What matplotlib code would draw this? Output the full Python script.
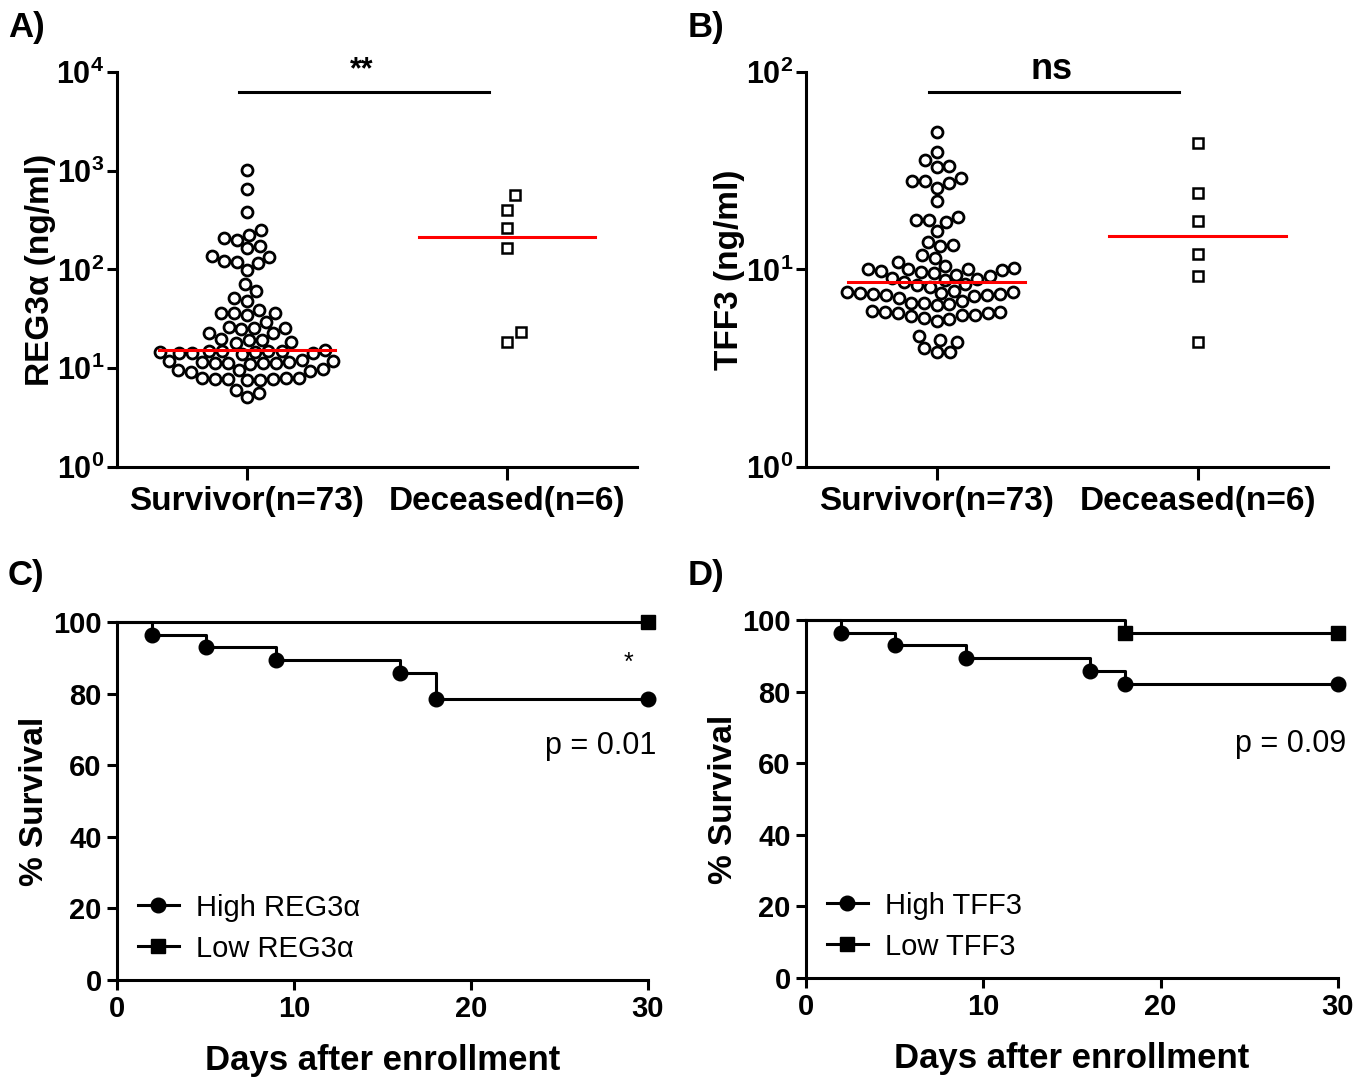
import numpy as np
import matplotlib
matplotlib.use("Agg")
import matplotlib.pyplot as plt
from matplotlib import font_manager
from matplotlib.lines import Line2D

# pick a condensed font if it is there
names = {f.name for f in font_manager.fontManager.ttflist}
NARROW = "Liberation Sans Narrow" if "Liberation Sans Narrow" in names else "Liberation Sans"
WIDE = "Liberation Sans"

plt.rcParams["font.family"] = [WIDE, "DejaVu Sans"]
plt.rcParams["mathtext.fontset"] = "custom"
plt.rcParams["mathtext.rm"] = NARROW
plt.rcParams["mathtext.bf"] = NARROW + ":bold"

# ---------------- data ----------------
groups = ["Survivor(n=73)", "Deceased(n=6)"]

reg3a_survivor = [1020, 646, 385, 251,
                  224, 207, 199, 173, 164,
                  137, 135, 123, 120, 116, 99,
                  71, 60, 51, 48,
                  39, 36.5, 36, 36, 34.7,
                  29.6, 26.4, 25.4, 25.4, 24.8,
                  22.6, 22.6, 20, 19.3, 19.3, 18.6, 18.2,
                  15.3,
                  15.0, 15.0, 14.8, 14.8, 14.6, 14.6, 14.4, 14.4, 14.2, 14.0,
                  12.0, 11.8, 11.8, 11.6, 11.6, 11.4, 11.4, 11.2, 11.2, 11.0,
                  9.8, 9.6, 9.6, 9.4, 9.2,
                  8.0, 7.9, 7.9, 7.8, 7.8, 7.7, 7.6, 7.6,
                  6.0, 5.6, 5.15]
reg3a_deceased = [568, 400, 265, 166, 23.2, 18.6]

tff3_survivor = [49.8, 39.4, 35.8, 33.4, 33.1,
                 28.9, 28.1, 28.1, 27.3, 26.0,
                 22.3,
                 18.4, 17.8, 17.8, 17.4, 15.7,
                 13.8, 13.3, 13.1,
                 11.8, 11.4, 10.9,
                 10.4, 10.2, 10.1, 10.0, 10.0, 9.9, 9.8, 9.7, 9.6, 9.4, 9.3, 9.1, 8.9, 8.8,
                 8.6,
                 8.4, 8.3, 8.2,
                 7.8, 7.7, 7.7, 7.6, 7.6, 7.5, 7.5, 7.4, 7.4, 7.3, 7.2,
                 6.9, 6.8, 6.8, 6.7, 6.6,
                 6.2, 6.1, 6.1, 6.0, 6.0, 5.9, 5.9, 5.8, 5.7, 5.6, 5.5,
                 4.6, 4.4, 4.3, 4.0, 3.8, 3.8]
tff3_deceased = [43.5, 24.3, 17.5, 12.0, 9.3, 4.28]

days_high_c = [0, 2, 5, 9, 16, 18, 30]
surv_high_c = [100, 96.4, 92.9, 89.3, 85.7, 78.6, 78.6]
days_low_c = [0, 30]
surv_low_c = [100, 100]

days_high_d = [0, 2, 5, 9, 16, 18, 30]
surv_high_d = [100, 96.4, 92.9, 89.3, 85.7, 82.1, 82.1]
days_low_d = [0, 18, 30]
surv_low_d = [100, 96.4, 96.4]

LW = 2.2  # line width in points (about 3 px)


def swarm_offsets(values, px_per_decade, d):
    """Simple beeswarm: x offsets (px) so that markers of diameter d don't overlap."""
    y = np.log10(values) * px_per_decade
    xs = np.zeros(len(y))
    placed = []
    for i in np.argsort(y):
        cands = [0.0]
        for px, py in placed:
            dy = y[i] - py
            if abs(dy) < d:
                dx = np.sqrt(d * d - dy * dy)
                cands += [px - dx, px + dx]
        cands.sort(key=lambda c: (round(abs(c), 4), -c))
        for c in cands:
            if all((c - px) ** 2 + (y[i] - py) ** 2 >= d * d - 1e-6 for px, py in placed):
                xs[i] = c
                placed.append((c, y[i]))
                break
    return xs


def dot_panel(ax, surv, dec, ymax, ylabel, bar_y, star, star_y, star_size):
    ax.set_yscale("log")
    ax.set_ylim(1, ymax)
    ax.set_xlim(-0.5, 1.5)
    fig = ax.figure
    w_px = ax.get_position().width * fig.get_figwidth() * fig.dpi
    h_px = ax.get_position().height * fig.get_figheight() * fig.dpi
    px_dec = h_px / np.log10(ymax)
    px_unit = w_px / 2.0

    xs = swarm_offsets(surv, px_dec, 13.0) / px_unit
    ax.plot(0 + xs, surv, linestyle="none", marker="o", ms=7.9, mfc="white",
            mec="black", mew=2.0, clip_on=False)
    xd = swarm_offsets(dec, px_dec, 17.0) / px_unit
    ax.plot(1 + xd, dec, linestyle="none", marker="s", ms=7.2, mfc="white",
            mec="black", mew=1.8, clip_on=False)

    # medians
    ax.plot([-0.34, 0.34], [np.median(surv)] * 2, color="#ff0000", lw=LW, zorder=5)
    ax.plot([0.66, 1.34], [np.median(dec)] * 2, color="#ff0000", lw=LW, zorder=5)

    # significance bar
    ax.plot([-0.03, 0.93], [bar_y, bar_y], color="black", lw=LW, clip_on=False)
    ax.text(0.44, star_y, star, ha="center", va="center", fontsize=star_size,
            fontweight="bold", family=[WIDE, "DejaVu Sans"])

    ax.set_xticks([0, 1])
    ax.set_xticklabels(groups, fontsize=24, fontweight="bold", family=[NARROW, "DejaVu Sans"])
    decades = range(0, int(round(np.log10(ymax))) + 1)
    ax.set_yticks([10 ** k for k in decades])
    ax.set_yticklabels([r"$\mathbf{10^{%d}}$" % k for k in decades], fontsize=22)
    ax.minorticks_off()
    ax.tick_params(axis="x", length=9, width=LW, pad=5)
    ax.tick_params(axis="y", length=7, width=LW, pad=2)
    for s in ["top", "right"]:
        ax.spines[s].set_visible(False)
    for s in ["left", "bottom"]:
        ax.spines[s].set_linewidth(LW)
    ax.set_ylabel(ylabel, fontsize=24, fontweight="bold", va="center")
    ax.yaxis.set_label_coords(-0.147, 0.5)


def km_panel(ax, dh, sh, dl, sl, name, ptext, star=None):
    ax.set_xlim(0, 30)
    ax.set_ylim(0, 100)
    ax.step(dh, sh, where="post", color="black", lw=LW, clip_on=False)
    ax.plot(dh[1:], sh[1:], linestyle="none", marker="o", ms=10.5, color="black", clip_on=False)
    ax.step(dl, sl, where="post", color="black", lw=LW, clip_on=False)
    ax.plot(dl[1:], sl[1:], linestyle="none", marker="s", ms=10.5, color="black", clip_on=False)

    handles = [Line2D([], [], color="black", lw=LW, marker="o", ms=10.5),
               Line2D([], [], color="black", lw=LW, marker="s", ms=10.5)]
    ax.legend(handles, ["High " + name, "Low " + name], loc="lower left",
              bbox_to_anchor=(-0.01, -0.025), frameon=False, handlelength=1.4,
              handletextpad=0.6, labelspacing=0.45,
              prop={"family": [NARROW, "DejaVu Sans"], "size": 21})

    ax.text(1.015, 0.655, ptext, transform=ax.transAxes, ha="right", va="center",
            fontsize=22, family=[NARROW, "DejaVu Sans"])
    if star:
        ax.text(28.9, 88.5, star, ha="center", va="center", fontsize=18)

    ax.set_xticks([0, 10, 20, 30])
    ax.set_yticks(range(0, 101, 20))
    for lab in ax.get_xticklabels() + ax.get_yticklabels():
        lab.set_fontweight("bold")
        lab.set_fontsize(21)
        lab.set_family([NARROW, "DejaVu Sans"])
    ax.tick_params(axis="both", length=7, width=LW, pad=4)
    for s in ["top", "right"]:
        ax.spines[s].set_visible(False)
    for s in ["left", "bottom"]:
        ax.spines[s].set_linewidth(LW)
    ax.set_ylabel("% Survival", fontsize=24, fontweight="bold", va="center")
    ax.yaxis.set_label_coords(-0.155, 0.5)
    ax.set_xlabel("Days after enrollment", fontsize=25, fontweight="bold", va="center")
    ax.xaxis.set_label_coords(0.5, -0.225)


fig = plt.figure(figsize=(13.68, 10.81), dpi=100)
W, H = 1368.0, 1081.0
axA = fig.add_axes([117 / W, 1 - 467 / H, 520 / W, 395 / H])
axB = fig.add_axes([806 / W, 1 - 467 / H, 522 / W, 395 / H])
axC = fig.add_axes([117 / W, 1 - 980 / H, 531 / W, 358 / H])
axD = fig.add_axes([806 / W, 1 - 978 / H, 532 / W, 358 / H])

dot_panel(axA, reg3a_survivor, reg3a_deceased, 1e4, "REG3α (ng/ml)", 6300, "**", 1.05e4, 22)
dot_panel(axB, tff3_survivor, tff3_deceased, 1e2, "TFF3 (ng/ml)", 79, "ns", 103, 26)
km_panel(axC, days_high_c, surv_high_c, days_low_c, surv_low_c, "REG3α", "p = 0.01", star="*")
km_panel(axD, days_high_d, surv_high_d, days_low_d, surv_low_d, "TFF3", "p = 0.09")

for lab, x, y in [("A)", 8, 28), ("B)", 688, 28), ("C)", 8, 575), ("D)", 688, 575)]:
    fig.text(x / W, 1 - y / H, lab, fontsize=25, fontweight="bold", va="center", ha="left")

fig.savefig("out.png", dpi=100)
